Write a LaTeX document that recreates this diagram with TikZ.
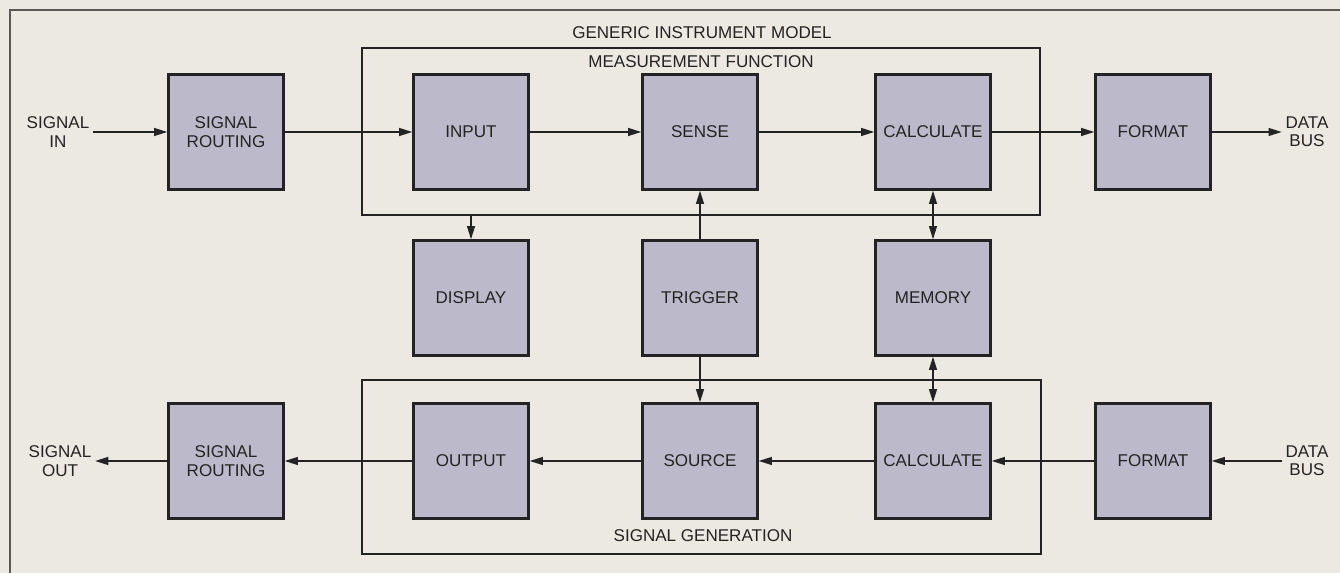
\documentclass[tikz,border=0pt]{standalone}
\usepackage{fontspec}
\setmainfont{Liberation Sans}
\usepackage{tikz}
\usetikzlibrary{positioning,arrows.meta,fit,calc}
\definecolor{paper}{HTML}{ECE9E2}
\definecolor{block}{HTML}{BCB9CB}
\definecolor{ink}{HTML}{232323}
\definecolor{edge}{HTML}{5A5855}
\tikzset{
  box/.style={draw=ink, fill=block, line width=1.4pt, minimum width=2.3cm, minimum height=2.3cm, align=center, inner sep=2pt,
    font=\fontsize{9.7}{10.5}\selectfont, text=ink},
  lab/.style={font=\fontsize{9.7}{10.5}\selectfont, text=ink, align=center, inner sep=2pt},
  frame/.style={draw=ink, line width=1.2pt, inner sep=0pt},
  flow/.style={-{Triangle[length=7.5pt, width=4.5pt]}, draw=ink, line width=0.8pt},
  both/.style={flow, {Triangle[length=7.5pt, width=4.5pt]}-{Triangle[length=7.5pt, width=4.5pt]}},
}
\begin{document}
\begin{tikzpicture}[x=0.02cm, y=0.02cm]
    \clip (0,0) rectangle (1340,573);
    \fill[paper] (0,0) rectangle (1340,573);
    \draw[edge, line width=0.7pt] (10,-20) |- (1360,563);
    % row 1: measurement
    \node[lab] (sigin)  at (58, 441)   {SIGNAL\\IN};
    \node[box] (routin) at (226, 441)  {SIGNAL\\ROUTING};
    \node[box] (input)  at (471, 441)  {INPUT};
    \node[box] (sense)  at (700, 441)  {SENSE};
    \node[box] (calcm)  at (933, 441)  {CALCULATE};
    \node[box] (formm)  at (1153, 441) {FORMAT};
    \node[lab] (busm)   at (1307, 441) {DATA\\BUS};
    % row 2: shared blocks
    \node[box] (display) at (471, 275) {DISPLAY};
    \node[box] (trigger) at (700, 275) {TRIGGER};
    \node[box] (memory)  at (933, 275) {MEMORY};
    % row 3: generation
    \node[lab] (sigout)  at (60, 112)   {SIGNAL\\OUT};
    \node[box] (routout) at (226, 112)  {SIGNAL\\ROUTING};
    \node[box] (output)  at (471, 112)  {OUTPUT};
    \node[box] (source)  at (700, 112)  {SOURCE};
    \node[box] (calcg)   at (933, 112)  {CALCULATE};
    \node[box] (formg)   at (1153, 112) {FORMAT};
    \node[lab] (busg)    at (1307, 112) {DATA\\BUS};
    % frames and titles
    \node[frame, fit={($(input.north west)+(-50,25)$) ($(calcm.south east)+(48,-24)$)}] (mframe) {};
    \node[frame, fit={($(output.north west)+(-50,22)$) ($(calcg.south east)+(49,-34)$)}] (gframe) {};
    \node[lab] (model) at (702, 540) {GENERIC INSTRUMENT MODEL};
    \node[lab] (mtitle) at (701, 511) {MEASUREMENT FUNCTION};
    \node[lab] (gtitle) at (703, 37) {SIGNAL GENERATION};
    % flows
    \draw[flow] (sigin) -- (routin);
    \draw[flow] (routin) -- (input);
    \draw[flow] (input) -- (sense);
    \draw[flow] (sense) -- (calcm);
    \draw[flow] (calcm) -- (formm);
    \draw[flow] (formm) -- (busm);
    \draw[flow] (mframe.south -| display.north) -- (display);
    \draw[flow] (trigger) -- (sense);
    \draw[flow] (trigger) -- (source);
    \draw[both] (calcm) -- (memory);
    \draw[both] (memory) -- (calcg);
    \draw[flow] (busg) -- (formg);
    \draw[flow] (formg) -- (calcg);
    \draw[flow] (calcg) -- (source);
    \draw[flow] (source) -- (output);
    \draw[flow] (output) -- (routout);
    \draw[flow] (routout) -- (sigout);
\end{tikzpicture}
\end{document}
